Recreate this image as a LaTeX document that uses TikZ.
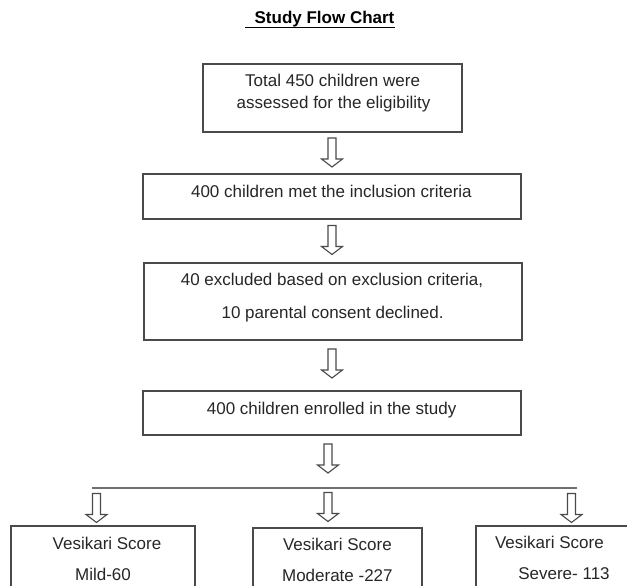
\documentclass[tikz,border=0pt]{standalone}
\usepackage{fontspec}
\setmainfont{Liberation Sans}
\definecolor{txtc}{HTML}{262626}
\definecolor{lnc}{HTML}{4A4A4A}
\definecolor{hlc}{HTML}{707070}
% hollow block arrow pointing down, from a named top coordinate
\newcommand{\dnarrow}[1]{%
  \draw[blockarrow] ([xshift=-4pt]#1) -- ++(0,21) -- ++(-6.5,0) -- ++(10.5,8)
    -- ++(10.5,-8) -- ++(-6.5,0) -- ++(0,-21) -- cycle;}
\begin{document}
\begin{tikzpicture}[x=1pt,y=-1pt,
  box/.style={draw=lnc, line width=1.3pt, inner sep=0pt, fill=none},
  lbl/.style={font=\fontsize{17}{20}\selectfont, text=txtc, anchor=base, inner sep=0pt},
  titlestyle/.style={font=\fontsize{17}{20}\selectfont\bfseries, text=black, anchor=base, inner sep=0pt},
  blockarrow/.style={draw=lnc, line width=1.1pt, line join=miter, fill=white},
  hline/.style={draw=hlc, line width=2pt}
]
\useasboundingbox (0,0) rectangle (627,586);
\clip (0,0) rectangle (627,586);

% title
\node[titlestyle] (title) at (324.5,24) {Study Flow Chart};
\draw[black, line width=1.4pt] ([xshift=-9pt,yshift=-3.5pt]title.base west) -- ([yshift=-3.5pt]title.base east);

% boxes
\node[box, minimum width=259pt, minimum height=68pt] (b1) at (332.5,98) {};
\node[box, minimum width=378pt, minimum height=45pt] (b2) at (332,196.5) {};
\node[box, minimum width=378pt, minimum height=77pt] (b3) at (333,301.5) {};
\node[box, minimum width=378pt, minimum height=44pt] (b4) at (332,413) {};
\node[box, minimum width=184pt, minimum height=74pt] (bl) at (103,563) {};
\node[box, minimum width=169pt, minimum height=72pt] (bm) at (337.5,564) {};
\node[box, minimum width=164pt, minimum height=74pt] (br) at (558,563) {};

% texts
\node[lbl] (t1a) at (332.6,87) {Total 450 children were};
\node[lbl] (t1b) at (333.6,108) {assessed for the eligibility};
\node[lbl] (t2) at (331.4,197) {400 children met the inclusion criteria};
\node[lbl] (t3a) at (332,285) {40 excluded based on exclusion criteria,};
\node[lbl] (t3b) at (332.6,318) {10 parental consent declined.};
\node[lbl] (t4) at (331.6,414) {400 children enrolled in the study};
\node[lbl] (tla) at (107,549) {Vesikari Score};
\node[lbl] (tlb) at (103,580) {Mild-60};
\node[lbl] (tma) at (337.4,550) {Vesikari Score};
\node[lbl] (tmb) at (337.4,581) {Moderate -227};
\node[lbl] (tra) at (549.4,548) {Vesikari Score};
\node[lbl] (trb) at (564,579) {Severe- 113};

% block arrows (top points)
\coordinate (a1) at (332,138);
\coordinate (a2) at (332,225.5);
\coordinate (a3) at (332,349);
\coordinate (a4) at (328,444);
\coordinate (a5) at (96.5,493.5);
\coordinate (a6) at (328,492.5);
\coordinate (a7) at (571.5,493.5);
\dnarrow{a1}
\dnarrow{a2}
\dnarrow{a3}
\dnarrow{a4}
\dnarrow{a5}
\dnarrow{a6}
\dnarrow{a7}

% horizontal split line
\coordinate (hl1) at (92,488);
\coordinate (hl2) at (577,488);
\draw[hline] (hl1) -- (hl2);
\end{tikzpicture}
\end{document}
